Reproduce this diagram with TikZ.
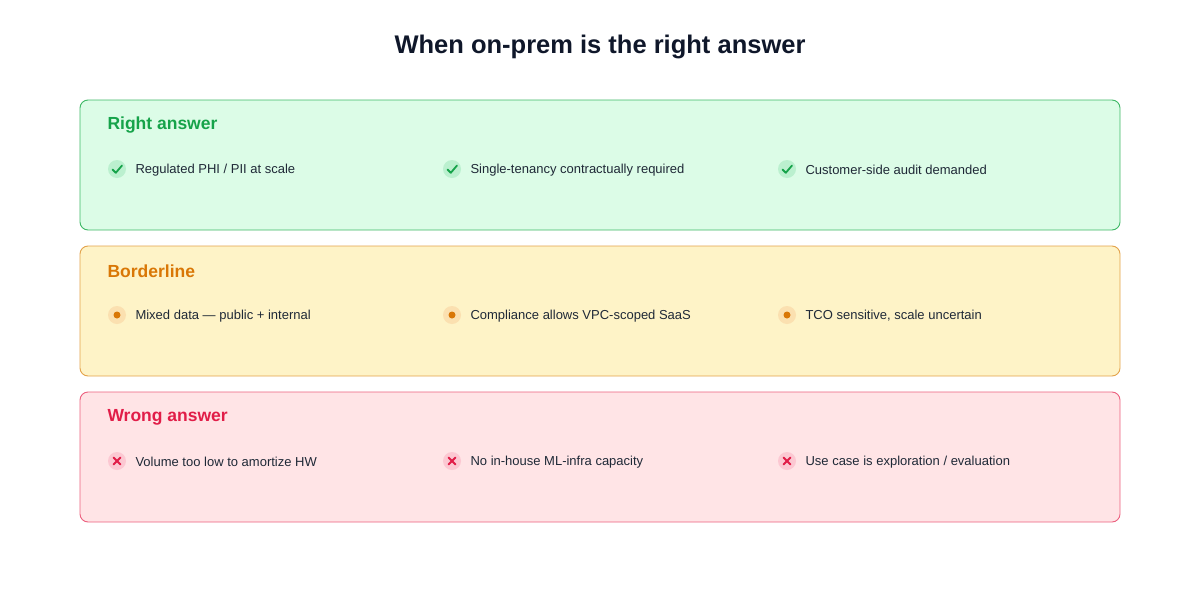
\documentclass[tikz,border=0pt]{standalone}
\usepackage{fontspec}
\setmainfont{Liberation Sans}
\usetikzlibrary{calc}
\definecolor{inkdark}{HTML}{0F172A}
\definecolor{inktext}{HTML}{1F2937}
\definecolor{okfill}{HTML}{DCFCE7}
\definecolor{okline}{HTML}{3DB865}
\definecolor{okhead}{HTML}{16A34A}
\definecolor{okdot}{HTML}{BBF0CF}
\definecolor{midfill}{HTML}{FEF3C7}
\definecolor{midline}{HTML}{E3A24A}
\definecolor{midhead}{HTML}{D97706}
\definecolor{middot}{HTML}{FBE0B0}
\definecolor{badfill}{HTML}{FFE4E6}
\definecolor{badline}{HTML}{EC5F7E}
\definecolor{badhead}{HTML}{E11D48}
\definecolor{baddot}{HTML}{FCC8D2}
\tikzset{
  panel/.style={rounded corners=8pt, line width=0.9pt},
  headtext/.style={anchor=west, font=\fontsize{17.5}{20}\selectfont\bfseries},
  itemtext/.style={anchor=west, font=\fontsize{13}{15}\selectfont, text=inktext},
  icondot/.style={circle, minimum size=18pt, inner sep=0pt}
}
\begin{document}
\begin{tikzpicture}[x=1pt, y=-1pt]
  \useasboundingbox (0,0) rectangle (1200,600);
  \node[font=\fontsize{25.5}{30}\selectfont\bfseries, text=inkdark] (title) at (600,47) {When on-prem is the right answer};

  % Right answer
  \draw[panel, okline, fill=okfill] (80,100) rectangle (1120,230);
  \node[headtext, text=okhead] (okhd) at (104,125) {Right answer};
  \foreach \x/\t [count=\i] in {117/{Regulated PHI / PII at scale}, 452/{Single-tenancy contractually required}, 787/{Customer-side audit demanded}} {
    \node[icondot, fill=okdot] (ok\i) at (\x,169) {};
    \draw[okhead, line width=1.8pt, line cap=round, line join=round] ($(ok\i)+(-4.5,0.5)$) -- ($(ok\i)+(-1.2,3.8)$) -- ($(ok\i)+(5,-3.5)$);
    \node[itemtext] (okt\i) at (\x+15,170) {\t};
  }

  % Borderline
  \draw[panel, midline, fill=midfill] (80,246) rectangle (1120,376);
  \node[headtext, text=midhead] (midhd) at (104,271) {Borderline};
  \foreach \x/\t [count=\i] in {117/{Mixed data — public + internal}, 452/{Compliance allows VPC-scoped SaaS}, 787/{TCO sensitive, scale uncertain}} {
    \node[icondot, fill=middot] (mid\i) at (\x,315) {};
    \fill[midhead] (mid\i) circle (3.5);
    \node[itemtext] (midt\i) at (\x+15,316) {\t};
  }

  % Wrong answer
  \draw[panel, badline, fill=badfill] (80,392) rectangle (1120,522);
  \node[headtext, text=badhead] (badhd) at (104,417) {Wrong answer};
  \foreach \x/\t [count=\i] in {117/{Volume too low to amortize HW}, 452/{No in-house ML-infra capacity}, 787/{Use case is exploration / evaluation}} {
    \node[icondot, fill=baddot] (bad\i) at (\x,461) {};
    \draw[badhead, line width=1.8pt, line cap=round] ($(bad\i)+(-3.5,-3.5)$) -- ($(bad\i)+(3.5,3.5)$);
    \draw[badhead, line width=1.8pt, line cap=round] ($(bad\i)+(-3.5,3.5)$) -- ($(bad\i)+(3.5,-3.5)$);
    \node[itemtext] (badt\i) at (\x+15,462) {\t};
  }
\end{tikzpicture}
\end{document}
